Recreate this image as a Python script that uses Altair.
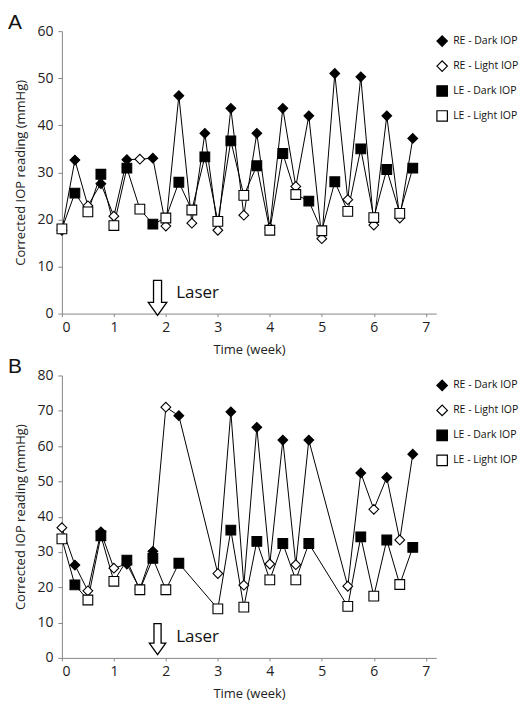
import altair as alt
import pandas as pd

# ---------------- data ----------------
weeks_a = [0, 0.25, 0.5, 0.75, 1.0, 1.25, 1.5, 1.75, 2.0, 2.25, 2.5, 2.75, 3.0, 3.25,
           3.5, 3.75, 4.0, 4.25, 4.5, 4.75, 5.0, 5.25, 5.5, 5.75, 6.0, 6.25, 6.5, 6.75]
re_a = [17.7, 32.6, 22.9, 27.6, 20.7, 32.7, 32.8, 33.0, 18.6, 46.3, 19.2, 38.3, 17.7, 43.6,
        20.9, 38.3, 18.2, 43.6, 27.0, 42.0, 15.9, 51.0, 24.2, 50.3, 18.8, 42.0, 20.3, 37.2]
le_a = [18.0, 25.6, 21.6, 29.6, 18.7, 30.9, 22.2, 19.0, 20.3, 27.9, 22.0, 33.3, 19.6, 36.7,
        25.1, 31.4, 17.7, 34.0, 25.3, 23.9, 17.6, 28.0, 21.7, 35.0, 20.4, 30.6, 21.3, 30.9]

weeks_b = [0, 0.25, 0.5, 0.75, 1.0, 1.25, 1.5, 1.75, 2.0, 2.25, 3.0, 3.25,
           3.5, 3.75, 4.0, 4.25, 4.5, 4.75, 5.5, 5.75, 6.0, 6.25, 6.5, 6.75]
re_b = [36.9, 26.3, 19.0, 35.7, 25.4, 26.6, 19.5, 30.2, 71.0, 68.6, 23.9, 69.7,
        20.6, 65.3, 26.6, 61.7, 26.4, 61.7, 20.3, 52.4, 42.1, 51.1, 33.4, 57.7]
le_b = [33.7, 20.7, 16.4, 34.6, 21.7, 27.7, 19.3, 28.2, 19.3, 26.8, 13.9, 36.2,
        14.4, 33.0, 22.1, 32.4, 22.1, 32.4, 14.6, 34.3, 17.5, 33.4, 20.8, 31.3]

series_names = ["RE - Dark IOP", "RE - Light IOP", "LE - Dark IOP", "LE - Light IOP"]
series_shapes = ["diamond", "diamond", "square", "square"]
series_fills = ["black", "white", "black", "white"]
series_strokes = ["black", "black", "black", "black"]

x_ticks = [0, 1, 2, 3, 4, 5, 6, 7]
laser_week = 1.84
laser_text_week = 2.2
panel_letters = ["A", "B"]

FONT = "Open Sans"
ARROW = "M-0.23,-1 L0.23,-1 L0.23,0.26 L0.53,0.26 L0,1 L-0.53,0.26 L-0.23,0.26 Z"


def make_df(weeks, re, le):
    rows = []
    for i, w in enumerate(weeks):
        cond = "Light" if round(w * 4) % 2 == 0 else "Dark"
        rows.append({"week": w, "iop": re[i], "eye": "RE", "series": f"RE - {cond} IOP"})
        rows.append({"week": w, "iop": le[i], "eye": "LE", "series": f"LE - {cond} IOP"})
    return pd.DataFrame(rows)


W, H = 375, 283


def panel(df, ymax, letter, arrow_y, text_y, arrow_size):
    x = alt.X("week:Q", scale=alt.Scale(domain=[0, 7.2], nice=False),
              axis=alt.Axis(values=x_ticks, title="Time (week)", format="d"))
    y = alt.Y("iop:Q", scale=alt.Scale(domain=[0, ymax], nice=False),
              axis=alt.Axis(values=list(range(0, ymax + 1, 10)), labelOverlap=False,
                            title="Corrected IOP reading (mmHg)"))
    base = alt.Chart(df)
    lines = base.mark_line(color="black", strokeWidth=1).encode(
        x=x, y=y, detail="eye:N", order="week:Q")
    leg = alt.Legend(title=None, orient="none", legendX=375, legendY=4,
                     labelFont=FONT, labelFontSize=10.5, labelColor="#111",
                     symbolSize=110, symbolStrokeWidth=1.2,
                     rowPadding=9, labelOffset=5)
    pts = base.mark_point(filled=True, strokeWidth=1.1, opacity=1, size=95).encode(
        x=x, y=y,
        shape=alt.Shape("series:N", scale=alt.Scale(domain=series_names, range=series_shapes), legend=leg),
        fill=alt.Fill("series:N", scale=alt.Scale(domain=series_names, range=series_fills), legend=leg),
        stroke=alt.Stroke("series:N", scale=alt.Scale(domain=series_names, range=series_strokes), legend=leg),
    )
    arrow_df = pd.DataFrame({"week": [laser_week], "iop": [arrow_y]})
    text_df = pd.DataFrame({"week": [laser_text_week], "iop": [text_y], "label": ["Laser"]})
    arrow = alt.Chart(arrow_df).mark_point(shape=ARROW, filled=True, fill="white", stroke="black",
                                           strokeWidth=1.3, size=arrow_size, opacity=1).encode(x=x, y=y)
    txt = alt.Chart(text_df).mark_text(align="left", baseline="middle", font=FONT, fontSize=17,
                                       color="#111").encode(x=x, y=y, text="label:N")
    letter_df = pd.DataFrame({"letter": [letter]})
    let = alt.Chart(letter_df).mark_text(align="left", baseline="alphabetic", font="Liberation Sans",
                                         fontSize=21, color="#111").encode(
        x=alt.value(-54), y=alt.value(-2), text="letter:N")
    return alt.layer(lines, pts, arrow, txt, let).properties(
        width=W, height=H,
    ).resolve_scale(shape="independent", fill="independent", stroke="independent")


pa = panel(make_df(weeks_a, re_a, le_a), 60, panel_letters[0], 3.35, 4.3, 1225)
pb = panel(make_df(weeks_b, re_b, le_b), 80, panel_letters[1], 5.3, 5.8, 961)

chart = alt.vconcat(pa, pb, spacing=62, bounds="flush").resolve_scale(
    shape="independent", fill="independent", stroke="independent",
    x="independent", y="independent"
).properties(padding={"left": 0, "top": 3.5, "right": 0, "bottom": 0}).configure_view(
    stroke=None
).configure_axis(
    grid=False, domainColor="#888", tickColor="#888", labelFont=FONT, titleFont=FONT,
    labelFontSize=14, titleFontSize=13, titleFontWeight="normal", labelColor="#222",
    titleColor="#222", tickSize=4,
).configure_axisX(labelPadding=4, titlePadding=9, tickSize=3).configure_axisY(
    labelPadding=5, titlePadding=9
)

chart.save("out.html", embed_options={"renderer": "svg", "actions": False})
